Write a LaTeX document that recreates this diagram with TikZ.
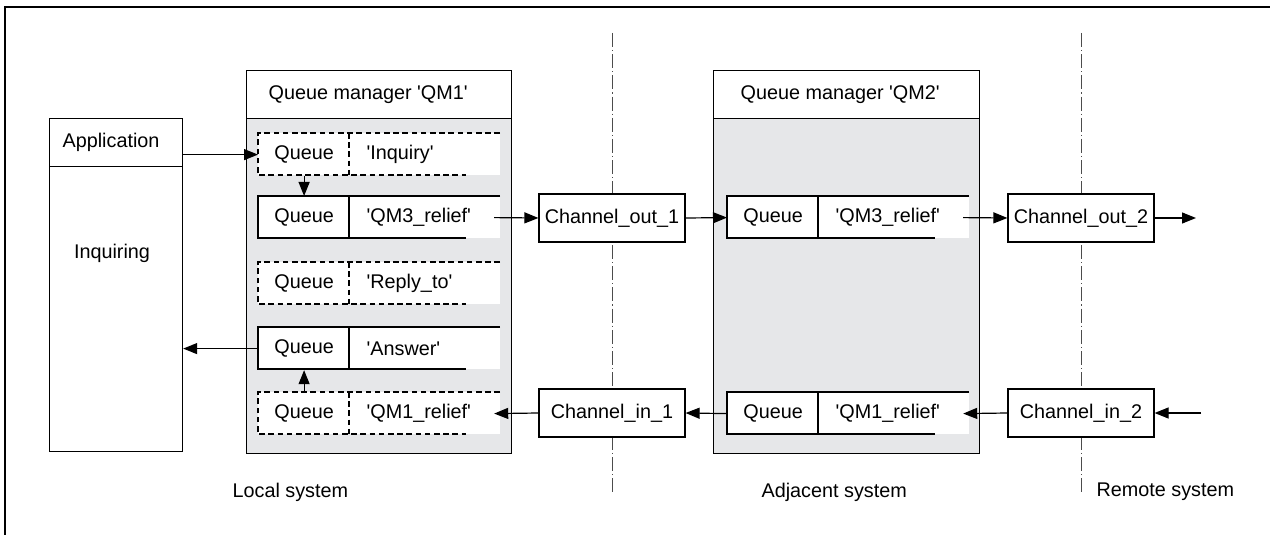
\documentclass[tikz,border=0pt]{standalone}
\usepackage{fontspec}
\setmainfont{Liberation Sans}
\usetikzlibrary{arrows.meta}
\definecolor{qmgray}{RGB}{230,231,233}
\newcommand{\qt}[1]{\textquotesingle#1\textquotesingle}
\newcommand{\qrow}[5]{%
\fill[white] (#2,#3) rectangle ++(242,42);
\draw[#5] (#2+242,#3) -- (#2,#3) -- (#2,#3+42) -- (#2+208,#3+42) (#2+91,#3) -- (#2+91,#3+42);
\node[qcell] (#1q) at (#2,#3) {Queue};
\node[ncell] (#1n) at (#2+91,#3) {\qt{#4}};}

\begin{document}
\begin{tikzpicture}[x=0.5pt,y=-0.5pt,line width=0.6pt,font=\fontsize{9.9}{11}\selectfont,
  box/.style={draw,fill=white,inner sep=0pt,anchor=north west},
  qcell/.style={inner sep=0pt,anchor=north west,minimum width=45.5pt,minimum height=21pt},
  ncell/.style={inner xsep=8.5pt,inner ysep=0pt,anchor=north west,text width=55pt,minimum height=21pt,align=left},
  chan/.style={draw,fill=white,inner sep=0pt,minimum width=73pt,minimum height=24pt},
  txt/.style={inner sep=0pt,anchor=west},
  flow/.style={-{Triangle[length=7pt,width=5.5pt]}},
  sysline/.style={dash pattern=on 7pt off 1.5pt on 0.6pt off 1.5pt,line width=0.5pt,black!70},
  dashline/.style={dash pattern=on 2.8pt off 1.8pt}]
\useasboundingbox (0,0) rectangle (1270,535);
\draw[line width=1pt] (5,535) -- (5,7) -- (1270,7);
\draw[sysline] (612,33) -- (612,493);
\draw[sysline] (1081,33) -- (1081,493);

\node[box,minimum width=66.5pt,minimum height=24pt] (apph) at (49,118) {};
\node[box,minimum width=66.5pt,minimum height=142.5pt] (appb) at (49,166) {};
\node[txt] (appt) at ([xshift=6.5pt]apph.west) {Application};
\node (inqt) at (112,253) {Inquiring};

\node[box,minimum width=132.5pt,minimum height=24pt] (qm1h) at (246,70) {};
\node[box,fill=qmgray,minimum width=132.5pt,minimum height=167.5pt] (qm1b) at (246,118) {};
\node[txt] (qm1t) at ([xshift=11pt]qm1h.west) {Queue manager \qt{QM1}};
\node[box,minimum width=133pt,minimum height=24pt] (qm2h) at (713,70) {};
\node[box,fill=qmgray,minimum width=133pt,minimum height=167.5pt] (qm2b) at (713,118) {};
\node[txt] (qm2t) at ([xshift=13.5pt]qm2h.west) {Queue manager \qt{QM2}};

\qrow{inq}{258}{133}{Inquiry}{dashline}
\qrow{rlf}{258}{196}{QM3\_relief}{solid}
\qrow{rep}{258}{262}{Reply\_to}{dashline}
\qrow{ans}{258}{327}{Answer}{solid}
\qrow{ret}{258}{392}{QM1\_relief}{dashline}
\qrow{fwd}{727}{196}{QM3\_relief}{solid}
\qrow{bck}{727}{392}{QM1\_relief}{solid}

\node[chan] (out1) at (612,218) {Channel\_out\_1};
\node[chan] (out2) at (1081,218) {Channel\_out\_2};
\node[chan] (in1) at (612,413) {Channel\_in\_1};
\node[chan] (in2) at (1081,413) {Channel\_in\_2};
\coordinate (outend) at (1196,218);
\coordinate (inbeg) at (1201,413);

\draw[flow] (inqq.west -| apph.east) -- (inqq.west);
\draw[flow] (inqq.south) -- (rlfq.north);
\draw[flow] (rlfn.east) -- (out1.west);
\draw[flow] (out1.east) -- (fwdq.west);
\draw[flow] (fwdn.east) -- (out2.west);
\draw[flow] (out2.east) -- (outend);
\draw[flow] (inbeg) -- (in2.east);
\draw[flow] (in2.west) -- (bckn.east);
\draw[flow] (bckq.west) -- (in1.east);
\draw[flow] (in1.west) -- (retn.east);
\draw[flow] (retq.north) -- (ansq.south);
\draw[flow] (ansq.west) -- (ansq.west -| appb.east);

\node[txt] (loc) at (232,492) {Local system};
\node[txt] (adj) at (761,492) {Adjacent system};
\node[txt] (rem) at (1096,492) {Remote system};
\end{tikzpicture}
\end{document}
